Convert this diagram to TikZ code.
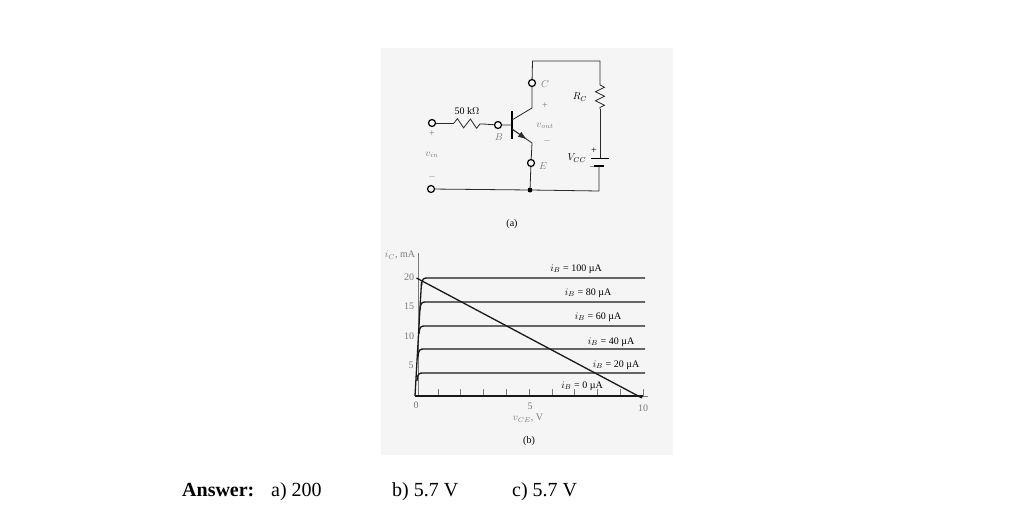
\documentclass[tikz,border=0pt]{standalone}
\usepackage{amsmath}
\usepackage{fontspec}
\setmainfont{Liberation Serif}
\usetikzlibrary{arrows.meta,decorations.pathmorphing}
\definecolor{paper}{HTML}{F5F5F5}
\definecolor{wire}{HTML}{2A2A2A}
\definecolor{faint}{HTML}{7A7A7A}

\begin{document}
\begin{tikzpicture}
[x=1pt,y=-1pt,%%%%%%%%%%%%%%%%%%%%%%%%%%%%%%
term/.style={circle,draw=black,line width=1.2pt,fill=paper,inner sep=0pt,minimum size=7pt},
dot/.style={circle,fill=black,inner sep=0pt,minimum size=5pt},
line/.style={draw=wire,line width=0.8pt},
res/.style={line,decorate,decoration={zigzag,segment length=#1,amplitude=4.5pt}},
curve/.style={draw=black!90,line width=1.3pt},
lab/.style={inner sep=0pt,font=\fontsize{10}{11}\selectfont},
pale/.style={lab,text=faint},
]%%%%%%%%%%%%%%%%%%%%%%%%%%%%%%
\useasboundingbox (0,0) rectangle (1024,511);
\fill[paper] (381,48) rectangle (673,455);

% circuit
\node[term] (tC) at (532,83){};
\node[term] (tE) at (531,163){};
\node[term] (tB) at (498,125){};
\node[term] (tp) at (432,123){};
\node[term] (tm) at (431,189){};
\node[dot] (gnd) at (530,190){};
\coordinate (tl) at (532.5,61);
\coordinate (tr) at (600,61);
\coordinate (ra) at (600,85);
\coordinate (rb) at (600,109);
\coordinate (pa) at (600,158);
\coordinate (pb) at (599,166);
\coordinate (br) at (599,191);
\coordinate (r1) at (454,123);
\coordinate (r2) at (483,124);
\coordinate (bar) at (512,125);
\coordinate (bt) at (512,111);
\coordinate (bb) at (512,139);
\coordinate (c1) at (512,120);
\coordinate (c2) at (532,108);
\coordinate (e1) at (512,129);
\coordinate (em) at (527,139.5);
\coordinate (e2) at (532,143);
\coordinate (p1) at (591,158);
\coordinate (p2) at (609,158);
\coordinate (q1) at (594,166);
\coordinate (q2) at (604,166);

\draw[line] (tC) -- (tl) -- (tr) -- (ra);
\draw[res=9pt] (ra) -- (rb);
\draw[line] (rb) -- (pa);
\draw[line] (pb) -- (br) -- (gnd) -- (tm);
\draw[line] (tp) -- (r1);
\draw[res=13pt] (r1) -- (r2);
\draw[line] (r2) -- (tB) -- (bar);
\draw[draw=black,line width=1.1pt] (bt) -- (bb);
\draw[line] (tC) -- (c2) -- (c1);
\draw[line] (e1) -- (e2) -- (tE) -- (gnd);
\draw[line,-{Latex[length=9pt,width=6pt]}] (e1) -- (em);
\draw[draw=black,line width=1pt] (p1) -- (p2);
\draw[draw=black,line width=1.6pt] (q1) -- (q2);

\node[lab] (lr) at (467,111){50 k$\Omega$};
\node[pale] (lC) at (545,84){$C$};
\node[lab] (lRc) at (580,97){$R_C$};
\node[pale] (lcp) at (545,106){+};
\node[pale] (lout) at (545,126){$v_{out}$};
\node[pale] (lcm) at (547,141){$-$};
\node[pale] (lB) at (499,137){$B$};
\node[pale] (lip) at (432,134){+};
\node[pale] (lin) at (432,155){$v_{in}$};
\node[pale] (lim) at (432,177){$-$};
\node[pale] (lE) at (543,166){$E$};
\node[lab] (lV) at (577,158){$V_{CC}$};
\node[lab] (lbp) at (594,151){+};
\node[lab] (lbm) at (593,167){$-$};
\node[lab] (la) at (512,224){(a)};

% graph
\coordinate (org) at (415,396);
\coordinate (ytop) at (418,253);
\coordinate (ybot) at (418,396);
\coordinate (xend) at (648,396);
\coordinate (xlast) at (643,396);
\coordinate (steep) at (421.5,282);
\coordinate (ll1) at (416.5,278);
\coordinate (ll2) at (642,398);
\draw[draw=faint,line width=0.7pt] (ytop) -- (ybot);
\draw[draw=faint,line width=0.7pt] (org) -- (xend);
\foreach \x in {1,...,10}{
\coordinate (ta\x) at (415+22.8*\x,396);
\coordinate (tb\x) at (415+22.8*\x,389);
\draw[draw=faint,line width=0.6pt] (ta\x) -- (tb\x);
}
\draw[curve] (org) -- (xlast);
\draw[curve] (org) -- (steep);
\foreach \y/\k/\n in {278/421.5/a,302/420/b,326/419/c,349/418/d,373/417/e}{
\coordinate (ka\n) at (\k,\y+8);
\coordinate (kb\n) at (\k+7,\y);
\coordinate (kc\n) at (645,\y);
\draw[curve] (ka\n) .. controls (\k+0.6,\y) and (\k+2,\y) .. (kb\n) -- (kc\n);
}
\draw[curve] (ll1) -- (ll2);

\node[lab] (i5) at (576,269){$i_B$ = 100 µA};
\node[lab] (i4) at (588,293){$i_B$ = 80 µA};
\node[lab] (i3) at (598,317){$i_B$ = 60 µA};
\node[lab] (i2) at (611,342){$i_B$ = 40 µA};
\node[lab] (i1) at (616,365){$i_B$ = 20 µA};
\node[lab] (i0) at (582,386){$i_B$ = 0 µA};

\node[pale] (y20) at (409,277){20};
\node[pale] (y15) at (409,306){15};
\node[pale] (y10) at (409,336){10};
\node[pale] (y5) at (411,365){5};
\node[pale] (x0) at (416,405){0};
\node[pale] (x5) at (530,406){5};
\node[pale] (x10) at (643,408){10};
\node[pale] (yl) at (400,255){$i_C$, mA};
\node[pale] (xl) at (528,418){$v_{CE}$, V};
\node[lab] (lb) at (529,441){(b)};

% answer line
\node[font=\fontsize{20}{22}\selectfont\bfseries,anchor=base west,inner sep=0pt] (ans) at (182,496){Answer:};
\node[font=\fontsize{20}{22}\selectfont,anchor=base west,inner sep=0pt] (ansa) at (271,496){a) 200};
\node[font=\fontsize{20}{22}\selectfont,anchor=base west,inner sep=0pt] (ansb) at (392,496){b) 5.7 V};
\node[font=\fontsize{20}{22}\selectfont,anchor=base west,inner sep=0pt] (ansc) at (512,496){c) 5.7 V};
\end{tikzpicture}
\end{document}
